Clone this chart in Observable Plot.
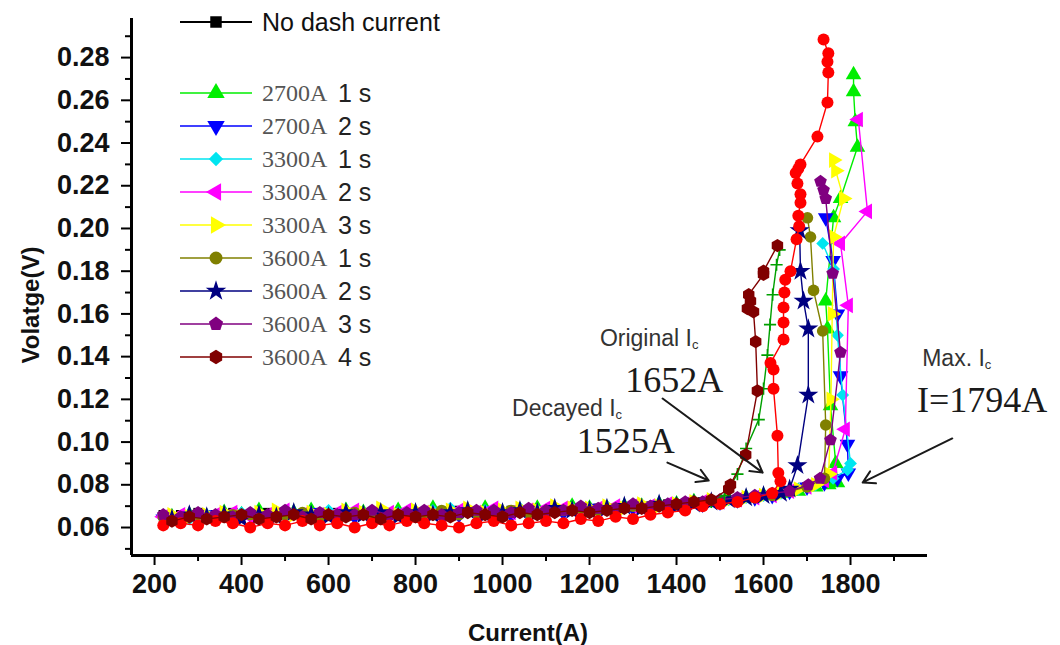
<!DOCTYPE html>
<html><head><meta charset="utf-8">
<script src="https://cdn.jsdelivr.net/npm/d3@7"></script>
<script src="https://cdn.jsdelivr.net/npm/@observablehq/plot@0.6"></script>
<style>
body{margin:0;background:#fff;}
#chart{width:1060px;height:645px;}
</style></head><body><div id="chart"></div>
<script>
// ---------- data (current in A, voltage in V) ----------
const gridA = [220,260,300,340,380,420,460,500,540,580,620,660,700,740,780,820,860,900,940,980,1020,1060,1100,1140,1180,1220,1260,1300,1340,1380,1420,1460];
const gridB = [240,280,320,360,400,440,480,520,560,600,640,680,720,760,800,840,880,920,960,1000,1040,1080,1120,1160,1200,1240,1280,1320,1360,1400,1440,1480];

const baseNoDash = [0.066,0.066,0.067,0.066,0.067,0.066,0.067,0.067,0.066,0.067,0.067,0.066,0.067,0.067,0.067,0.066,0.067,0.068,0.067,0.067,0.068,0.068,0.068,0.068,0.069,0.069,0.069,0.070,0.070,0.071,0.071,0.072];
const tailNoDashI = [1500,1540,1580,1620,1660,1700];
const tailNoDashV = [0.072,0.073,0.074,0.075,0.077,0.079];

const base2700_1 = [0.065,0.066,0.065,0.067,0.066,0.068,0.066,0.067,0.068,0.066,0.068,0.067,0.066,0.068,0.067,0.069,0.067,0.068,0.069,0.067,0.068,0.069,0.068,0.070,0.069,0.069,0.070,0.070,0.071,0.071,0.072,0.072];
const tail2700_1I = [1520,1560,1600,1640,1680,1720,1750,1770,1766,1754,1747,1743,1761,1777,1816,1811,1807,1807];
const tail2700_1V = [0.073,0.074,0.075,0.076,0.077,0.079,0.080,0.081,0.090,0.117,0.153,0.166,0.205,0.214,0.238,0.250,0.264,0.272];

const base2700_2 = [0.064,0.065,0.064,0.066,0.065,0.066,0.065,0.066,0.065,0.067,0.066,0.065,0.066,0.067,0.066,0.066,0.067,0.066,0.067,0.068,0.066,0.067,0.068,0.067,0.068,0.069,0.068,0.069,0.070,0.070,0.071,0.071];
const tail2700_2I = [1500,1540,1580,1620,1660,1700,1740,1770,1795,1793,1777,1770,1760,1743];
const tail2700_2V = [0.072,0.073,0.074,0.075,0.077,0.079,0.081,0.083,0.0855,0.099,0.131,0.160,0.185,0.205];

const base3300_1 = [0.065,0.064,0.066,0.065,0.067,0.066,0.065,0.067,0.066,0.068,0.067,0.066,0.068,0.067,0.066,0.068,0.069,0.067,0.068,0.067,0.069,0.068,0.068,0.069,0.068,0.070,0.069,0.070,0.070,0.071,0.072,0.072];
const tail3300_1I = [1520,1560,1600,1640,1680,1720,1760,1793,1800,1782,1770,1761,1736];
const tail3300_1V = [0.073,0.074,0.075,0.076,0.078,0.080,0.083,0.087,0.090,0.122,0.150,0.181,0.193];

const base3300_2 = [0.065,0.066,0.065,0.066,0.067,0.065,0.066,0.068,0.066,0.066,0.067,0.068,0.066,0.067,0.068,0.067,0.066,0.068,0.067,0.069,0.067,0.068,0.069,0.069,0.068,0.069,0.070,0.070,0.070,0.071,0.071,0.072];
const tail3300_2I = [1500,1540,1580,1620,1660,1700,1740,1759,1788,1795,1777,1839,1818];
const tail3300_2V = [0.072,0.073,0.074,0.075,0.077,0.079,0.082,0.0855,0.106,0.164,0.193,0.208,0.251];

const base3300_3 = [0.066,0.065,0.066,0.067,0.065,0.067,0.068,0.066,0.067,0.066,0.068,0.067,0.069,0.066,0.068,0.067,0.068,0.069,0.067,0.068,0.069,0.068,0.070,0.069,0.069,0.070,0.069,0.071,0.070,0.071,0.072,0.073];
const tail3300_3I = [1520,1560,1600,1640,1680,1720,1750,1755,1758,1761,1784,1766,1761];
const tail3300_3V = [0.073,0.074,0.075,0.076,0.078,0.080,0.085,0.120,0.160,0.196,0.214,0.227,0.232];

const base3600_1 = [0.065,0.064,0.066,0.065,0.066,0.066,0.064,0.066,0.067,0.065,0.066,0.067,0.065,0.066,0.066,0.067,0.068,0.066,0.067,0.066,0.068,0.067,0.067,0.068,0.069,0.068,0.069,0.070,0.069,0.070,0.071,0.071];
const tail3600_1I = [1500,1540,1580,1620,1660,1700,1740,1743,1736,1715,1708,1701];
const tail3600_1V = [0.072,0.073,0.074,0.075,0.077,0.079,0.083,0.108,0.152,0.171,0.196,0.205];

const base3600_2 = [0.064,0.066,0.065,0.066,0.064,0.066,0.065,0.067,0.066,0.065,0.067,0.066,0.067,0.065,0.067,0.066,0.067,0.068,0.066,0.067,0.068,0.067,0.069,0.068,0.068,0.069,0.070,0.069,0.071,0.070,0.071,0.072];
const tail3600_2I = [1520,1560,1600,1640,1660,1678,1703,1703,1692,1685,1683];
const tail3600_2V = [0.073,0.074,0.075,0.076,0.078,0.089,0.122,0.153,0.166,0.180,0.199];

const base3600_3 = [0.066,0.065,0.067,0.066,0.065,0.067,0.066,0.068,0.065,0.067,0.066,0.066,0.068,0.066,0.067,0.068,0.066,0.067,0.068,0.068,0.067,0.069,0.068,0.068,0.070,0.069,0.069,0.071,0.070,0.071,0.072,0.072];
const tail3600_3I = [1500,1540,1580,1620,1660,1703,1730,1754,1777,1759,1743,1738,1731];
const tail3600_3V = [0.073,0.074,0.075,0.076,0.077,0.080,0.083,0.101,0.142,0.179,0.214,0.218,0.222];

const base3600_4 = [0.063,0.065,0.064,0.065,0.066,0.064,0.065,0.066,0.064,0.066,0.065,0.066,0.064,0.066,0.065,0.066,0.065,0.067,0.066,0.065,0.067,0.066,0.067,0.068,0.067,0.068,0.069,0.069,0.070,0.071,0.072,0.073];
const tail3600_4I = [1520,1524,1559,1586,1582,1577,1563,1570,1566,1600,1600,1632];
const tail3600_4V = [0.078,0.080,0.094,0.124,0.147,0.161,0.1625,0.166,0.169,0.1785,0.180,0.192];

const baseRed = [0.061,0.062,0.061,0.063,0.062,0.060,0.062,0.061,0.063,0.061,0.062,0.060,0.062,0.061,0.063,0.062,0.061,0.060,0.062,0.063,0.061,0.062,0.063,0.062,0.064,0.063,0.065,0.064,0.066,0.067,0.068,0.070];
const tailRedI = [1500,1540,1580,1620,1639,1634,1632,1623,1623,1616,1646,1646,1646,1648,1650,1662,1676,1682,1680,1685,1685,1678,1674,1680,1685,1724,1747,1749,1747,1749,1738];
const tailRedV = [0.071,0.072,0.074,0.076,0.0817,0.0855,0.103,0.125,0.134,0.137,0.148,0.156,0.163,0.170,0.176,0.180,0.195,0.201,0.206,0.212,0.216,0.221,0.226,0.228,0.230,0.243,0.259,0.273,0.278,0.282,0.2885];

const tailPlusI = [1480,1510,1540,1560,1589,1600,1609,1615,1621,1630,1637];
const tailPlusV = [0.072,0.075,0.085,0.097,0.1105,0.125,0.1407,0.155,0.169,0.183,0.190];

// tick values
const xMajor = [200,400,600,800,1000,1200,1400,1600,1800];
const xMinor = [300,500,700,900,1100,1300,1500,1700,1900];
const yMajor = [0.06,0.08,0.10,0.12,0.14,0.16,0.18,0.20,0.22,0.24,0.26,0.28];
const yMinor = [0.05,0.07,0.09,0.11,0.13,0.15,0.17,0.19,0.21,0.23,0.25,0.27,0.29];

// legend text
const legendCurrents = ["2700A","2700A","3300A","3300A","3300A","3600A","3600A","3600A","3600A"];
const legendTimes = ["1 s","2 s","1 s","2 s","3 s","1 s","2 s","3 s","4 s"];

// annotations (data coordinates)
const annLabel = ["Original I","Decayed I","Max. I"];
const annLabelI = [1225,1023,1966];
const annLabelV = [0.1447,0.112,0.1354];
const annValue = ["1652A","1525A","I=1794A"];
const annValueI = [1283,1172,1954];
const annValueV = [0.1232,0.0946,0.1138];
const arrowFromI = [1368,1379,2034];
const arrowFromV = [0.1204,0.0904,0.1017];
const arrowToI = [1598,1474,1828];
const arrowToV = [0.0857,0.0820,0.0811];

// ---------- symbols ----------
function polygon(n, angle, areaK){
  return {draw(ctx,size){
    const R = Math.sqrt(size/areaK);
    for(let k=0;k<n;k++){const a=(angle+k*360/n)*Math.PI/180; const px=R*Math.cos(a), py=R*Math.sin(a); k?ctx.lineTo(px,py):ctx.moveTo(px,py);}
    ctx.closePath();
  }};
}
const triUp = polygon(3,-90,1.299), triDown = polygon(3,90,1.299), triLeft = polygon(3,180,1.299), triRight = polygon(3,0,1.299);
const pentagon = polygon(5,-90,2.378);
const hexagon = polygon(6,-90,2.598);

const series = [
  {color:"#000000", symbol:d3.symbolSquare, grid:gridA, base:baseNoDash, tI:tailNoDashI, tV:tailNoDashV, legend:true, r:5.3},
  {color:"#00ee00", symbol:triUp, grid:gridB, base:base2700_1, tI:tail2700_1I, tV:tail2700_1V, legend:true, r:5.8},
  {color:"#0000ff", symbol:triDown, grid:gridA, base:base2700_2, tI:tail2700_2I, tV:tail2700_2V, legend:true, r:5.8},
  {color:"#00e5f0", symbol:d3.symbolDiamond2, grid:gridB, base:base3300_1, tI:tail3300_1I, tV:tail3300_1V, legend:true, r:5.8},
  {color:"#ff00ff", symbol:triLeft, grid:gridA, base:base3300_2, tI:tail3300_2I, tV:tail3300_2V, legend:true, r:5.8},
  {color:"#ffff00", symbol:triRight, grid:gridB, base:base3300_3, tI:tail3300_3I, tV:tail3300_3V, legend:true, r:5.8},
  {color:"#808000", symbol:d3.symbolCircle, grid:gridA, base:base3600_1, tI:tail3600_1I, tV:tail3600_1V, legend:true, r:5.8},
  {color:"#000080", symbol:d3.symbolStar, grid:gridB, base:base3600_2, tI:tail3600_2I, tV:tail3600_2V, legend:true, r:6.3},
  {color:"#800080", symbol:pentagon, grid:gridA, base:base3600_3, tI:tail3600_3I, tV:tail3600_3V, legend:true, r:5.8},
  {color:"#00a000", symbol:"plus", grid:gridB, base:[], tI:tailPlusI, tV:tailPlusV, legend:false, r:4},
  {color:"#ff0000", symbol:d3.symbolCircle, grid:gridA, base:baseRed, tI:tailRedI, tV:tailRedV, legend:false, r:6},
  {color:"#800000", symbol:hexagon, grid:gridB, base:base3600_4, tI:tail3600_4I, tV:tail3600_4V, legend:true, r:6}
];
const rowsOf = s => s.base.map((V,i)=>({I:s.grid[i], V})).concat(s.tI.map((I,i)=>({I, V:s.tV[i]})));

const marks = [];
for (const s of series) {
  const data = rowsOf(s);
  marks.push(Plot.line(data, {x:"I", y:"V", stroke:s.color, strokeWidth:1.4}));
  const stroked = s.symbol === "plus";
  marks.push(Plot.dot(data, {x:"I", y:"V", symbol:s.symbol, r:s.r,
    fill: stroked ? "none" : s.color, stroke: stroked ? s.color : "none", strokeWidth: stroked ? 1.6 : 0}));
}

const X0 = 147, X1 = 1977, Y0 = 0.0469, Y1 = 0.2983;
const arrows = arrowFromI.map((v,i)=>({x1:v, y1:arrowFromV[i], x2:arrowToI[i], y2:arrowToV[i]}));

const chart = Plot.plot({
  width:1060, height:645,
  marginLeft:131, marginRight:36, marginTop:18, marginBottom:90,
  style:{fontFamily:"Liberation Sans, Arial, sans-serif", background:"#fff", overflow:"visible"},
  x:{domain:[X0, 2200]},
  y:{domain:[Y0, Y1]},
  marks:[
    ...marks,
    Plot.arrow(arrows, {x1:"x1", y1:"y1", x2:"x2", y2:"y2", stroke:"#1a1a1a", strokeWidth:2, headLength:10}),
    Plot.axisY(yMinor, {anchor:"left", tickSize:6, tickFormat:()=> "", strokeWidth:2, label:null}),
    Plot.axisY(yMajor, {anchor:"left", tickSize:10, tickPadding:12, strokeWidth:2, tickFormat:d=>d.toFixed(2), fontSize:27, fontWeight:"bold", fill:"#111", label:null}),
    Plot.axisX(xMinor, {anchor:"bottom", tickSize:6, tickFormat:()=> "", strokeWidth:2, label:null}),
    Plot.axisX(xMajor, {anchor:"bottom", tickSize:10, tickPadding:8, strokeWidth:2, tickFormat:d=>String(d), fontSize:27, fontWeight:"bold", fill:"#111", label:null}),
    Plot.ruleX([X0], {y1:Y0, y2:Y1, stroke:"#000", strokeWidth:3}),
    Plot.ruleY([Y0], {x1:X0, x2:X1, stroke:"#000", strokeWidth:3})
  ]
});
document.getElementById("chart").appendChild(chart);

const sx = chart.scale("x"), sy = chart.scale("y");
const svg = d3.select(chart);

// axis titles
svg.append("text").attr("x", 528).attr("y", 632).attr("text-anchor","middle").attr("dominant-baseline","central")
  .attr("font-size",24).attr("font-weight","bold").attr("fill","#111").text("Current(A)");
svg.append("text").attr("transform","translate(30,305) rotate(-90)").attr("text-anchor","middle").attr("dominant-baseline","central")
  .attr("font-size",24).attr("font-weight","bold").attr("fill","#111").text("Volatge(V)");

// annotations
annLabel.forEach((t,i)=>{
  const tx = svg.append("text").attr("x", sx.apply(annLabelI[i])).attr("y", sy.apply(annLabelV[i]))
    .attr("text-anchor","start").attr("font-size",23).attr("fill","#333").attr("font-family","Liberation Sans, Arial, sans-serif");
  tx.append("tspan").text(t);
  tx.append("tspan").attr("font-size",13).attr("dy",3).text("c");
});
annValue.forEach((t,i)=>{
  svg.append("text").attr("x", sx.apply(annValueI[i])).attr("y", sy.apply(annValueV[i])).attr("text-anchor","start")
    .attr("font-size",36).attr("fill","#1a1a1a").attr("font-family","Liberation Serif, Times New Roman, serif").text(t);
});

// legend
const lg = svg.append("g").attr("text-anchor","start");
function legendRow(y, s, sw){
  lg.append("line").attr("x1",180).attr("x2",252).attr("y1",y).attr("y2",y).attr("stroke",s.color).attr("stroke-width",sw);
  lg.append("path").attr("transform",`translate(216,${y})`).attr("d", d3.symbol(s.symbol, Math.PI*42)()).attr("fill",s.color);
}
legendRow(22, series[0], 2.2);
lg.append("text").attr("x",262).attr("y",22).attr("dominant-baseline","central").attr("font-size",25).attr("fill","#111").text("No dash current");
const legendSeries = series.filter((s,i)=> i>0 && s.legend);
legendSeries.forEach((s,i)=>{
  const y = 93 + i*33;
  legendRow(y, s, 1.5);
  lg.append("text").attr("x",262).attr("y",y).attr("dominant-baseline","central").attr("font-size",24)
    .attr("font-family","Liberation Serif, Times New Roman, serif").attr("fill","#555").text(legendCurrents[i]);
  lg.append("text").attr("x",338).attr("y",y).attr("dominant-baseline","central").attr("font-size",25)
    .attr("fill","#222").text(legendTimes[i]);
});
</script></body></html>
